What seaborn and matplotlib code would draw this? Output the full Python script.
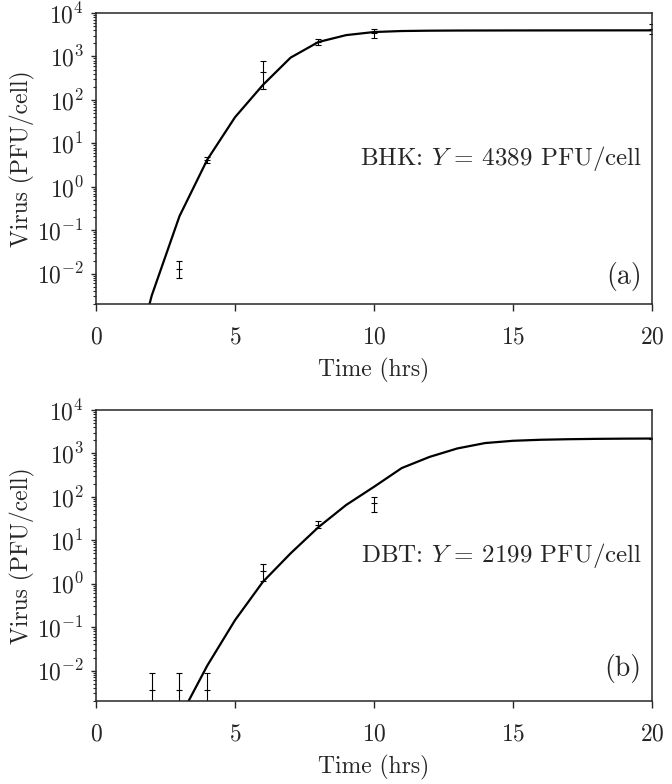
import numpy as np
import pandas as pd
import matplotlib
matplotlib.use("Agg")
import matplotlib.pyplot as plt
import seaborn as sns
from matplotlib.ticker import LogLocator, NullFormatter

# model curves, evaluated at whole hours
curve_t = list(range(0, 21))
bhk_curve = [1e-9, 1e-5, 0.0031, 0.21, 4.2, 40, 220, 940, 2150, 3100, 3650,
             3850, 3920, 3950, 3960, 3970, 3975, 3980, 3985, 3988, 3990]
dbt_curve = [1e-9, 1e-7, 1e-5, 0.0008, 0.013, 0.145, 1.1, 5.0, 20, 65, 170,
             460, 830, 1300, 1730, 1950, 2060, 2120, 2160, 2185, 2199]

# measured titers with error bars
bhk_t = [3, 4, 6, 8, 10, 20]
bhk_y = [0.013, 4.2, 450, 2150, 3500, 4389]
bhk_lo = [0.005, 0.6, 270, 300, 800, 1100]
bhk_hi = [0.007, 0.7, 350, 350, 800, 1200]

dbt_t = [2, 3, 4, 6, 8, 10, 20]
dbt_y = [0.0035, 0.0035, 0.0035, 2.0, 22.5, 72, 2199]
dbt_lo = [0.0055, 0.0055, 0.0055, 0.85, 3.5, 27, 60]
dbt_hi = [0.0055, 0.0055, 0.0055, 0.9, 5.0, 28, 60]

panels = [
    ("BHK", 4389, "(a)", bhk_curve, bhk_t, bhk_y, bhk_lo, bhk_hi),
    ("DBT", 2199, "(b)", dbt_curve, dbt_t, dbt_y, dbt_lo, dbt_hi),
]

sns.set_style("ticks")
plt.rcParams["font.family"] = "serif"
plt.rcParams["font.serif"] = ["cmr10"]
plt.rcParams["mathtext.fontset"] = "cm"
plt.rcParams["axes.formatter.use_mathtext"] = True
plt.rcParams["axes.unicode_minus"] = True

fig = plt.figure(figsize=(6.72, 7.84), dpi=100)
ax_pos = [[0.143, 0.6122, 0.827, 0.3712], [0.143, 0.1059, 0.827, 0.3712]]

for pos, (cell, yield_val, tag, curve, t, y, lo, hi) in zip(ax_pos, panels):
    ax = fig.add_axes(pos)
    df = pd.DataFrame({"t": curve_t, "v": curve})
    sns.lineplot(data=df, x="t", y="v", ax=ax, color="black", linewidth=1.6)
    ax.errorbar(t, y, yerr=[lo, hi], fmt="_", color="black", markersize=4.5,
                elinewidth=0.8, capsize=2.5, capthick=0.8, mew=0.8, clip_on=True)
    ax.set_yscale("log")
    ax.set_xlim(0, 20)
    ax.set_ylim(0.002, 1e4)
    ax.set_xticks([0, 5, 10, 15, 20])
    ax.yaxis.set_major_locator(LogLocator(base=10, numticks=20))
    ax.yaxis.set_minor_locator(LogLocator(base=10, subs=np.arange(2, 10), numticks=20))
    ax.yaxis.set_minor_formatter(NullFormatter())
    ax.tick_params(axis="both", which="both", direction="out", top=False, right=False,
                   labelsize=17)
    ax.tick_params(axis="x", which="major", length=5, width=1, pad=11)
    ax.tick_params(axis="y", which="major", length=3.8, width=1, pad=5)
    ax.tick_params(axis="y", which="minor", length=2, width=0.8)
    for s in ax.spines.values():
        s.set_linewidth(1.1)
    ax.set_xlabel("Time (hrs)", fontsize=17, labelpad=7)
    ax.set_ylabel("Virus (PFU/cell)", fontsize=17, labelpad=1)
    ax.text(0.982, 0.50, f"{cell}: $Y$ = {yield_val} PFU/cell", transform=ax.transAxes,
            ha="right", va="center", fontsize=18)
    ax.text(0.982, 0.093 if tag == "(a)" else 0.11, tag, transform=ax.transAxes,
            ha="right", va="center", fontsize=20)

fig.savefig("out.png", dpi=100)
